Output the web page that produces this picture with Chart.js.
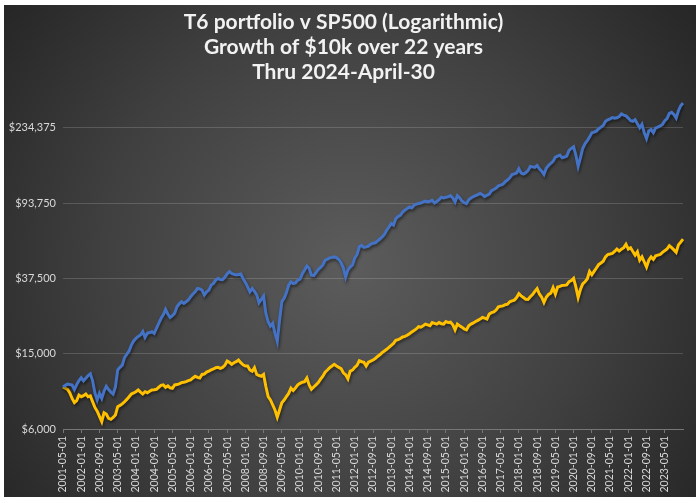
<!DOCTYPE html>
<html>
<head>
<meta charset="utf-8">
<title>T6 portfolio v SP500</title>
<script src="https://cdn.jsdelivr.net/npm/chart.js@4.4.1/dist/chart.umd.min.js"></script>
<style>
  html, body { margin: 0; padding: 0; background: #ffffff; }
  #wrap { width: 699px; height: 503px; }
</style>
</head>
<body>
<div id="wrap"><canvas id="growthChart" width="699" height="503"></canvas></div>
<script>
// monthly values, first point 2001-05
const START_YEAR = 2001;
const START_MONTH = 5;

const t6Values = [
  10000,10200,10370,10300,10250,9700,10300,10800,11190,10770,11110,11500,
  11740,10770,9300,8530,9250,8700,9500,10100,9700,9400,9170,10000,
  12300,12700,13050,14300,14900,15500,16660,17500,18060,18500,18820,19620,
  18280,19210,19400,19620,19210,20400,21700,23000,24030,25700,24300,23300,
  23800,24550,26520,27500,28200,27650,28200,28820,30000,31000,31820,33160,
  33000,32480,30600,31800,32480,34530,35230,36690,37460,37000,36870,38000,
  39500,40710,39800,39400,39070,39300,39550,37460,35700,33800,31820,33160,
  32000,30640,27850,29000,30200,24500,22150,20960,21700,19210,17410,22500,
  28200,29450,31500,34500,35920,35200,35500,36690,37100,39700,41500,43580,
  42370,39000,38800,40220,41800,42880,44110,46790,47300,48100,48400,48660,
  48200,47160,45350,42500,38000,41550,43000,44110,48000,50140,55020,56000,
  54600,55000,55480,56830,57500,57770,59110,60500,62080,64000,67360,70000,
  73060,71580,77600,79500,80750,84050,86000,87630,89430,88340,91250,92500,
  93100,93770,95000,96020,94900,95800,96800,93770,95500,97580,100520,99830,
  100500,101360,102550,99830,94900,102550,99830,96020,94000,93100,97580,99500,
  101360,102550,103800,105350,103770,101360,103000,104600,108880,110500,112430,115500,
  116500,117830,121460,124000,127310,132520,133500,135050,142210,135050,133400,135500,
  139000,146200,145500,144500,148000,142000,138000,132500,143000,148000,152000,155500,
  163900,166000,168000,162400,164000,166000,177800,182000,185700,168000,146200,162400,
  182000,192500,200000,209000,220400,222000,224700,231400,236000,240700,253200,258100,
  261000,265100,263300,264500,268300,277000,273000,270500,263300,255000,253200,258100,
  246000,233800,243900,220400,205000,225000,229100,220400,233800,236000,239400,243900,
  255000,262000,279100,282400,275000,263300,288000,306000,316200
];

const sp500Values = [
  10000,9850,9700,9300,8700,8260,8470,9070,8890,9000,9180,8890,
  8970,8360,7800,7450,7000,6560,7310,7200,6830,6750,6900,7120,
  7870,8000,8140,8360,8600,8890,9180,9300,9440,9650,9400,9180,
  9440,9330,9500,9650,9680,9730,9970,10200,10260,9970,10130,9900,
  9850,10260,10300,10390,10550,10600,10680,10800,10900,11160,11400,11250,
  11160,11650,11700,11980,12130,12300,12450,12650,12700,12550,12700,13010,
  13700,13500,13170,13440,13600,13880,13440,13100,12900,12900,12300,12100,
  12650,11650,11500,11400,11650,10060,8890,8540,8040,7560,6920,7560,
  8260,8540,8900,9250,9850,9570,9900,10260,10460,10600,10680,11160,
  10260,9730,10000,10260,10550,11000,11400,11980,12300,12650,12900,13170,
  12900,12700,12500,11880,11600,11030,12130,12280,12700,13010,13780,13600,
  13510,12900,13510,13700,13880,14150,14500,14800,15200,15500,15810,16200,
  16600,16990,17660,17800,18030,18380,18500,18750,19130,19500,19870,20260,
  20820,20700,21070,21490,21300,21070,21900,21700,21490,21900,21600,21490,
  22170,21900,22000,21330,20030,21490,21070,20700,20260,20030,21070,21490,
  21800,22170,22500,22840,23300,23100,22840,24300,24700,24900,25490,26500,
  26700,26820,27200,27380,28200,28500,28780,29690,31100,30300,29690,29100,
  29000,29980,30800,32000,33120,31000,29800,27930,29800,30800,31320,33460,
  30960,33770,34000,34430,34500,34600,36000,36480,37500,33770,29690,32730,
  35020,36000,37240,40780,39140,40800,42510,44340,45200,46170,48680,50110,
  50400,50740,52000,53550,52220,53500,54440,56780,53550,54440,52000,49710,
  51770,46760,48680,45760,42980,46760,48680,47290,49300,49700,50110,51420,
  52500,53550,55810,54440,53000,51420,56310,58210,60380
];

const yTickValues = [6000, 15000, 37500, 93750, 234375];
const titleLines = ['T6 portfolio v SP500 (Logarithmic)', 'Growth of $10k over 22 years', 'Thru 2024-April-30'];
const LABEL_EVERY = 8;
const LAST_LABEL = '2023-05-01';

// month labels yyyy-mm-01
const monthLabels = t6Values.map((_, i) => {
  const m = START_MONTH - 1 + i;
  const y = START_YEAR + Math.floor(m / 12);
  return y + '-' + String(m % 12 + 1).padStart(2, '0') + '-01';
});
const lastLabelIndex = monthLabels.indexOf(LAST_LABEL);

const panelBg = {
  id: 'panelBg',
  beforeDraw(chart) {
    const c = chart.ctx;
    c.save();
    c.fillStyle = '#ffffff';
    c.fillRect(0, 0, chart.width, chart.height);
    const g = c.createRadialGradient(350, 265, 10, 350, 265, 440);
    g.addColorStop(0, '#5b5b5b');
    g.addColorStop(0.55, '#404040');
    g.addColorStop(1, '#252525');
    c.fillStyle = g;
    c.fillRect(4, 5, 692, 492);
    c.restore();
  }
};

const lineShadow = {
  id: 'lineShadow',
  beforeDatasetDraw(chart) {
    const c = chart.ctx;
    c.save();
    c.shadowColor = 'rgba(0,0,0,0.5)';
    c.shadowBlur = 3;
    c.shadowOffsetX = 1;
    c.shadowOffsetY = 2;
  },
  afterDatasetDraw(chart) {
    chart.ctx.restore();
  }
};

const ctx = document.getElementById('growthChart').getContext('2d');
new Chart(ctx, {
  type: 'line',
  data: {
    labels: monthLabels,
    datasets: [
      {
        label: 'T6 portfolio',
        data: t6Values,
        borderColor: '#4472C4',
        borderWidth: 3,
        pointRadius: 0,
        tension: 0
      },
      {
        label: 'SP500',
        data: sp500Values,
        borderColor: '#FFC000',
        borderWidth: 3,
        pointRadius: 0,
        tension: 0
      }
    ]
  },
  options: {
    responsive: false,
    animation: false,
    layout: { padding: { top: 5, left: 4, right: 16, bottom: 6 } },
    plugins: {
      legend: { display: false },
      tooltip: { enabled: false },
      title: {
        display: true,
        text: titleLines,
        color: '#f2f2f2',
        font: { family: 'Lato', size: 21, weight: 'bold', lineHeight: '25px' },
        padding: { top: 5, bottom: 5 }
      }
    },
    scales: {
      x: {
        type: 'category',
        offset: false,
        afterFit(scale) { scale.height = 68; },
        grid: { drawOnChartArea: false, drawTicks: true, tickLength: 4, color: '#767676' },
        border: { display: true, color: '#767676', width: 1 },
        ticks: {
          autoSkip: false,
          maxRotation: 90,
          minRotation: 90,
          padding: 3,
          color: '#d9d9d9',
          font: { family: 'Lato', size: 10.5 },
          callback(value, index) {
            return index % LABEL_EVERY === 0 && index <= lastLabelIndex ? monthLabels[index] : null;
          }
        }
      },
      y: {
        type: 'logarithmic',
        min: 6000,
        max: 370600,
        afterFit(scale) { scale.width = 59; },
        afterBuildTicks(scale) {
          scale.ticks = yTickValues.map(v => ({ value: v }));
        },
        grid: { drawTicks: false, color: 'rgba(255,255,255,0.16)', lineWidth: 1 },
        border: { display: false },
        ticks: {
          padding: 7,
          color: '#d9d9d9',
          font: { family: 'Lato', size: 11 },
          callback(value) {
            return '$' + Number(value).toLocaleString('en-US');
          }
        }
      }
    }
  },
  plugins: [panelBg, lineShadow]
});
</script>
</body>
</html>
